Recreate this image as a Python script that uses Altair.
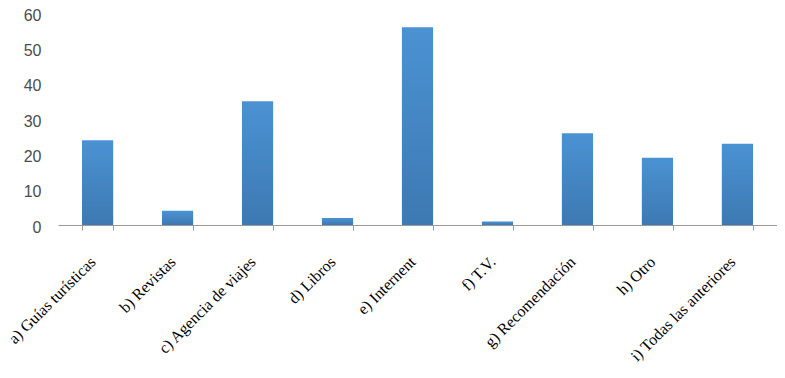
import altair as alt
import pandas as pd

categories = [
    "a) Guías turísticas",
    "b) Revistas",
    "c) Agencia de viajes",
    "d) Libros",
    "e) Internent",
    "f) T.V.",
    "g) Recomendación",
    "h) Otro",
    "i) Todas las anteriores",
]
values = [24, 4, 35, 2, 56, 1, 26, 19, 23]
y_ticks = [0, 10, 20, 30, 40, 50, 60]

df = pd.DataFrame({"cat": categories, "val": values})

grad = alt.Gradient(
    gradient="linear",
    stops=[
        alt.GradientStop(color="#4b92d3", offset=0),
        alt.GradientStop(color="#3d79b2", offset=1),
    ],
    x1=0, x2=0, y1=0, y2=1,
)

chart = (
    alt.Chart(df)
    .mark_bar(color=grad)
    .encode(
        x=alt.X(
            "cat:N",
            sort=categories,
            title=None,
            scale=alt.Scale(paddingInner=0.61, paddingOuter=0.3),
            axis=alt.Axis(
                labelAngle=-45,
                labelAlign="right",
                labelBaseline="middle",
                labelFont="Liberation Serif",
                labelFontSize=16,
                labelColor="#000000",
                labelPadding=29,
                labelOffset=-5,
                labelOverlap=False,
                labelLimit=300,
                tickBand="extent",
                tickSize=5,
                tickColor="#9a9a9a",
                domainColor="#9a9a9a",
                domainWidth=1,
            ),
        ),
        y=alt.Y(
            "val:Q",
            title=None,
            scale=alt.Scale(domain=[0, 60], nice=False),
            axis=alt.Axis(
                values=y_ticks,
                grid=False,
                domain=False,
                ticks=False,
                labelFont="Liberation Sans",
                labelFontSize=16,
                labelColor="#4d4d4d",
                labelPadding=17,
                labelOffset=2,
            ),
        ),
    )
    .properties(
        width=719,
        height=212,
        autosize=alt.AutoSizeParams(type="none"),
        padding={"left": 50, "top": 5, "right": 0, "bottom": 148},
    )
    .configure_view(stroke=None)
)

chart.save("out.html", embed_options={"renderer": "svg", "actions": False})
